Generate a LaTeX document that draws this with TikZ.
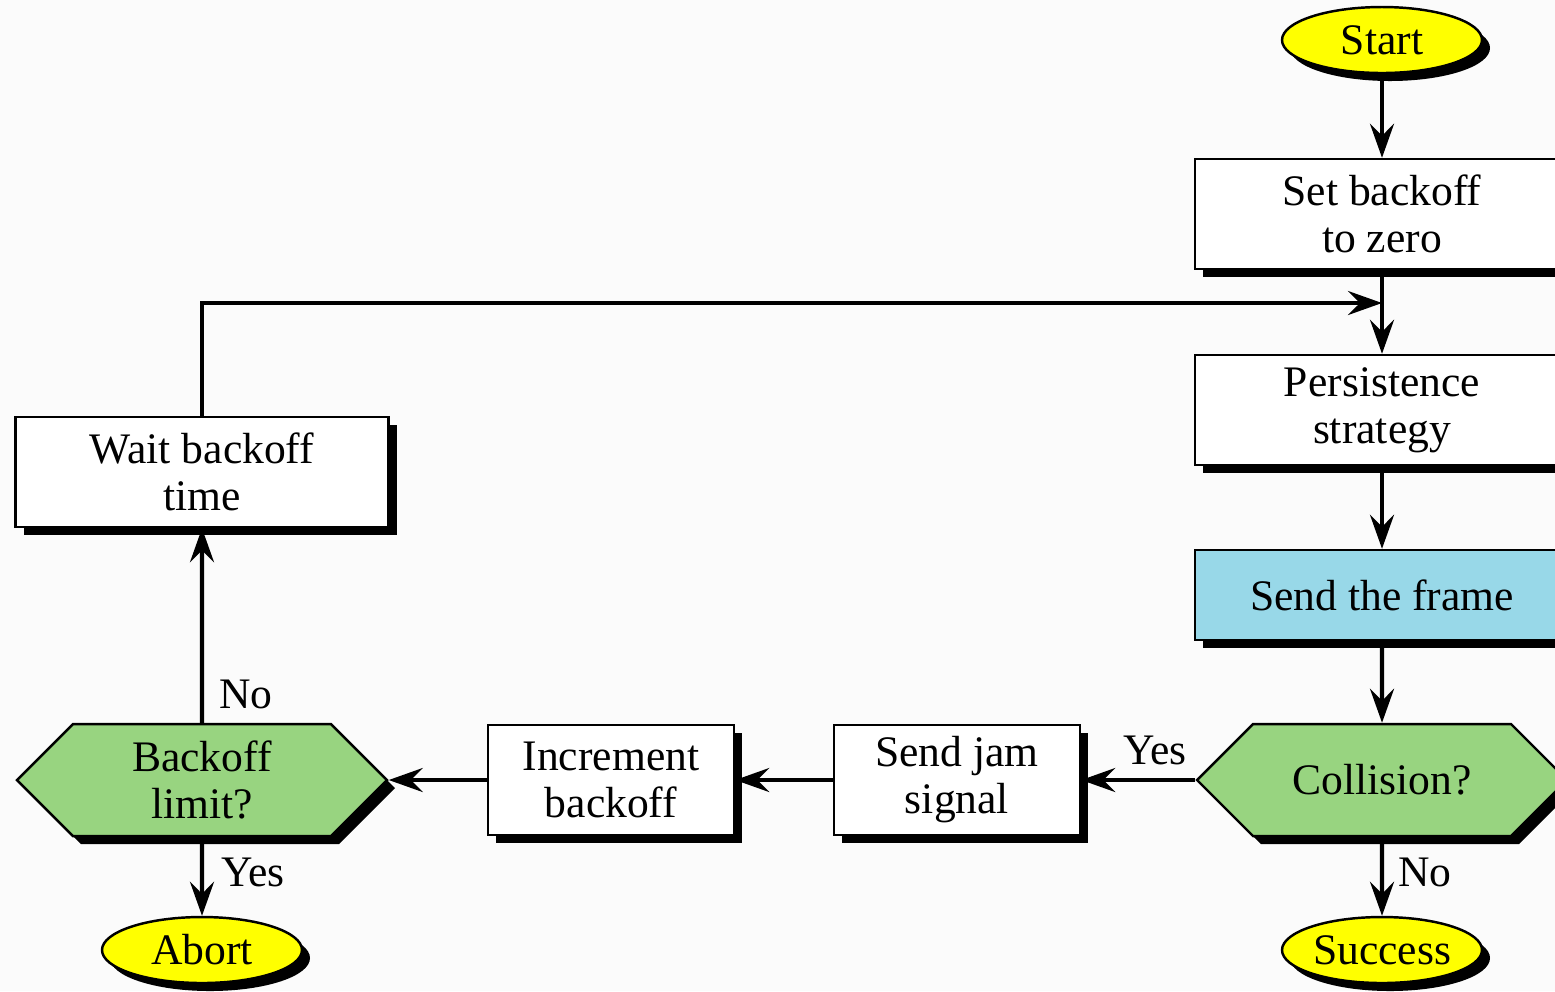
\documentclass[tikz,border=0pt]{standalone}
\usepackage{fontspec}
\setmainfont{Liberation Serif}
\usepackage{tikz}
\usetikzlibrary{shapes.geometric,shapes.symbols,shadows,arrows.meta}

\definecolor{termyellow}{RGB}{255,255,0}
\definecolor{frameblue}{RGB}{152,216,232}
\definecolor{askgreen}{RGB}{152,212,128}

\tikzset{
	shad/.style={drop shadow={shadow xshift=0.8mm,shadow yshift=-0.8mm,opacity=1,fill=black}},
	box/.style={draw,line width=0.7pt,fill=white,shad,align=center,minimum width=3.74cm,minimum height=1.10cm,inner sep=0pt},
	smallbox/.style={box,minimum width=2.46cm},
	term/.style={ellipse,draw,line width=0.7pt,fill=termyellow,shad,minimum width=2.0cm,minimum height=0.66cm,inner sep=0pt},
	hexa/.style={signal,signal to=west and east,draw,line width=0.7pt,fill=askgreen,shad,align=center,minimum width=3.70cm,minimum height=1.12cm,inner sep=0pt},
	arr/.style={line width=1.2pt,-{Stealth[length=3.4mm,width=2.4mm,inset=1.2mm]}},
	lbl/.style={inner sep=0pt}
}

\begin{document}
\begin{tikzpicture}[x=0.1mm,y=-0.1mm,font=\fontsize{12.4}{13.4}\selectfont]
		\useasboundingbox (0,0) rectangle (1555,991);
		\clip (0,0) rectangle (1555,991);
		\fill[black!1.5] (0,0) rectangle (1555,991);

		%right column
		\node[term] (start) at (1382,40) {Start};
		\node[box] (setb) at (1382,214) {Set backoff\\to zero};
		\node[box] (pers) at (1382,410) {Persistence\\strategy};
		\node[box,fill=frameblue,minimum height=0.90cm] (send) at (1382,595) {Send the frame};
		\node[hexa] (coll) at (1382,780) {Collision?};
		\node[term] (succ) at (1382,950) {Success};

		%bottom row
		\node[smallbox] (jam) at (957,780) {Send jam\\signal};
		\node[smallbox] (incr) at (611,780) {Increment\\backoff};

		%left column
		\node[hexa] (limit) at (202,780) {Backoff\\limit?};
		\node[box,minimum width=3.73cm] (wait) at (202,472) {Wait backoff\\time};
		\node[term] (abort) at (202,950) {Abort};

		\coordinate (join) at (1382,303);

		%arrows:
		\draw[arr] (start) -- (setb);
		\draw[arr] (setb) -- (pers);
		\draw[arr] (pers) -- (send);
		\draw[arr] (send) -- (coll);
		\draw[arr] (coll) -- (succ);
		\draw[arr] (coll.west) -- (jam);
		\draw[arr] (jam) -- (incr);
		\draw[arr] (incr) -- (limit.east);
		\draw[arr] (limit) -- (abort);
		\draw[arr] (limit) -- (wait);
		\draw[arr] (wait.north) |- (join);

		%labels
		\node[lbl] (yescoll) at (1155,750) {Yes};
		\node[lbl] (nocoll) at (1425,872) {No};
		\node[lbl] (nolimit) at (246,694) {No};
		\node[lbl] (yeslimit) at (253,872) {Yes};
\end{tikzpicture}
\end{document}
